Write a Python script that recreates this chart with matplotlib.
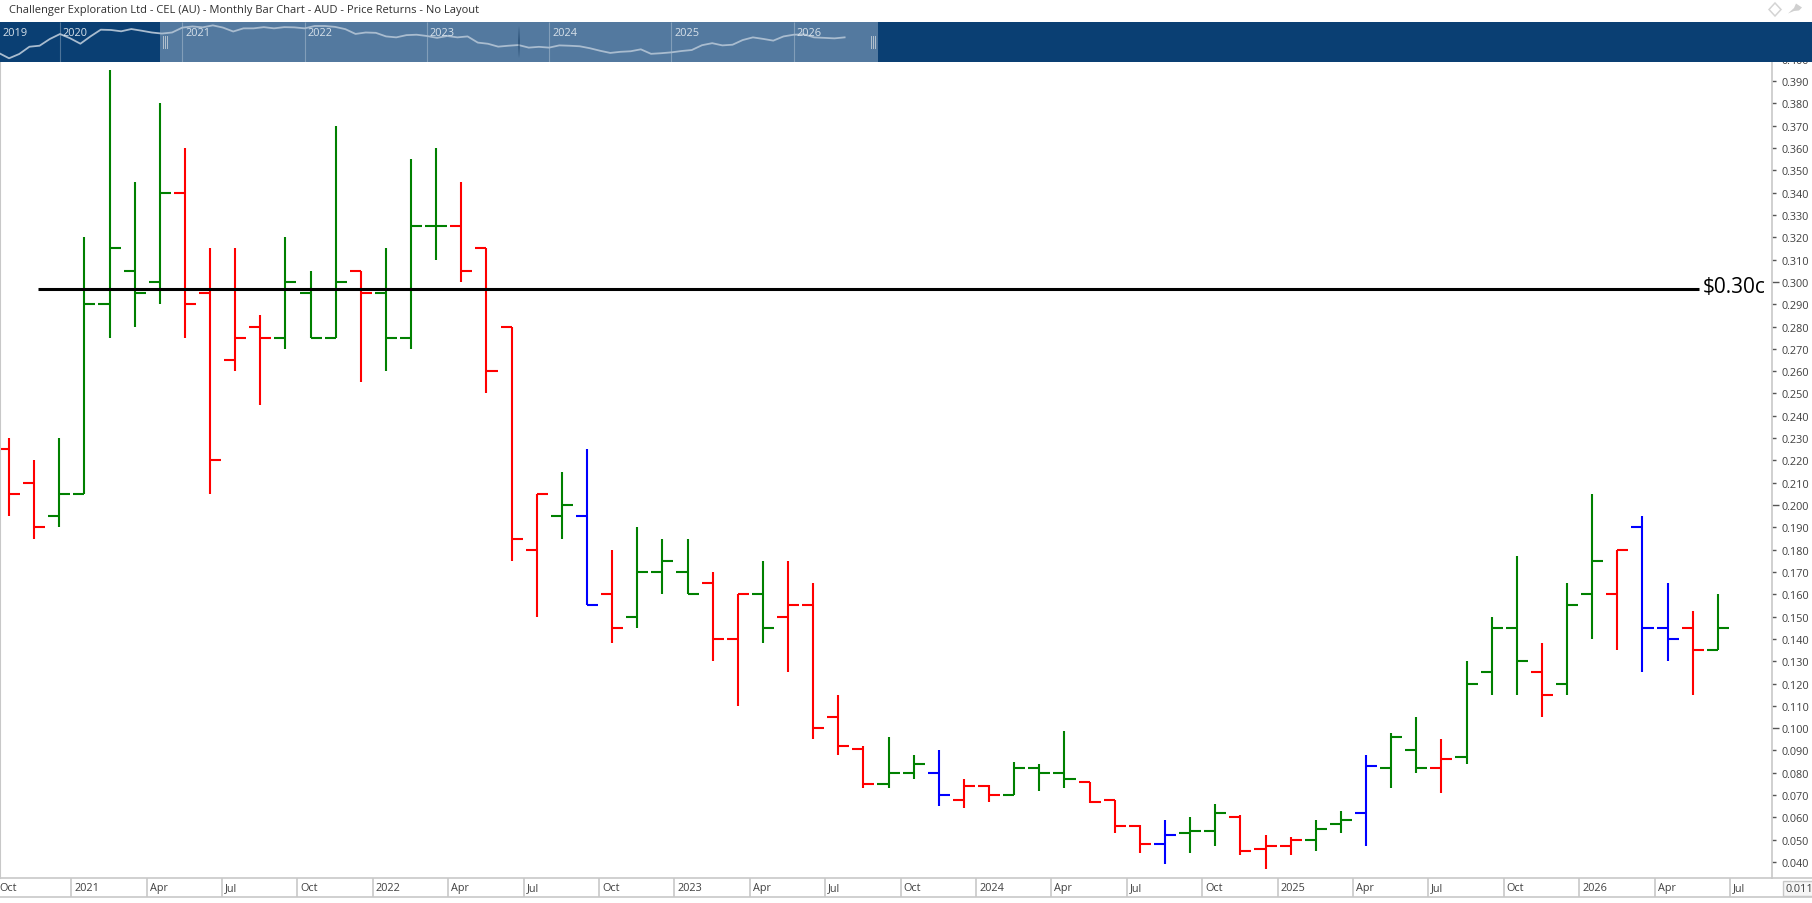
import matplotlib
matplotlib.use("Agg")
import matplotlib.pyplot as plt
from matplotlib.patches import Polygon, Rectangle

plt.rcParams['font.family'] = ['Open Sans', 'DejaVu Sans']

W, H = 1812, 904

# monthly prices, Oct 2020 to Jun 2026
opens = [0.225, 0.210, 0.195, 0.205, 0.290, 0.305, 0.300, 0.340, 0.295, 0.265,
         0.280, 0.275, 0.295, 0.275, 0.305, 0.295, 0.275, 0.325, 0.325, 0.315,
         0.280, 0.180, 0.195, 0.195, 0.160, 0.150, 0.170, 0.170, 0.165, 0.140,
         0.160, 0.150, 0.155, 0.105, 0.0905, 0.075, 0.080, 0.080, 0.068, 0.074,
         0.070, 0.082, 0.080, 0.076, 0.068, 0.056, 0.048, 0.053, 0.054, 0.060,
         0.046, 0.047, 0.050, 0.057, 0.062, 0.082, 0.090, 0.082, 0.087, 0.125,
         0.145, 0.125, 0.120, 0.160, 0.160, 0.190, 0.145, 0.145, 0.135]
highs = [0.230, 0.220, 0.230, 0.320, 0.395, 0.345, 0.380, 0.360, 0.315, 0.315,
         0.285, 0.320, 0.305, 0.370, 0.305, 0.315, 0.355, 0.360, 0.345, 0.315,
         0.280, 0.205, 0.215, 0.225, 0.180, 0.190, 0.185, 0.185, 0.170, 0.160,
         0.175, 0.175, 0.165, 0.115, 0.092, 0.096, 0.088, 0.090, 0.077, 0.0745,
         0.085, 0.084, 0.0985, 0.076, 0.068, 0.0566, 0.059, 0.060, 0.066, 0.061,
         0.052, 0.051, 0.059, 0.063, 0.088, 0.0977, 0.105, 0.095, 0.130, 0.150,
         0.177, 0.138, 0.165, 0.205, 0.180, 0.195, 0.165, 0.1525, 0.160]
lows = [0.195, 0.185, 0.190, 0.205, 0.275, 0.280, 0.290, 0.275, 0.205, 0.260,
        0.245, 0.270, 0.275, 0.275, 0.255, 0.260, 0.270, 0.310, 0.300, 0.250,
        0.175, 0.150, 0.185, 0.155, 0.138, 0.145, 0.160, 0.160, 0.130, 0.110,
        0.138, 0.125, 0.095, 0.088, 0.073, 0.073, 0.077, 0.065, 0.064, 0.067,
        0.070, 0.072, 0.073, 0.0665, 0.053, 0.044, 0.039, 0.044, 0.047, 0.043,
        0.037, 0.043, 0.045, 0.053, 0.047, 0.073, 0.080, 0.071, 0.084, 0.115,
        0.115, 0.105, 0.115, 0.140, 0.135, 0.125, 0.130, 0.115, 0.135]
closes = [0.205, 0.190, 0.205, 0.290, 0.315, 0.295, 0.340, 0.290, 0.220, 0.275,
          0.275, 0.300, 0.275, 0.300, 0.295, 0.275, 0.325, 0.325, 0.305, 0.260,
          0.185, 0.205, 0.200, 0.155, 0.145, 0.170, 0.175, 0.160, 0.140, 0.160,
          0.145, 0.155, 0.100, 0.092, 0.075, 0.080, 0.084, 0.070, 0.074, 0.070,
          0.082, 0.080, 0.077, 0.067, 0.056, 0.048, 0.052, 0.054, 0.062, 0.045,
          0.047, 0.050, 0.055, 0.059, 0.083, 0.096, 0.082, 0.086, 0.120, 0.145,
          0.130, 0.115, 0.155, 0.175, 0.180, 0.145, 0.140, 0.135, 0.145]

# colour per bar: g = green, r = red, b = blue
bar_colours = ("rrgggggrrr" "rgggrgggrr" "rrgbrgggrr" "grrrrggbrr"
               "gggrrrbggr" "rrggbggrgg" "grggrbbrg")
colour_map = {"g": "#008000", "r": "#ff0000", "b": "#0000ff"}
colours = [colour_map[c] for c in bar_colours]

# closes before the bars start, Jul 2019 to Sep 2020, only seen in the overview strip
early_closes = [0.0477, 0.0328, 0.0445, 0.0746, 0.0802, 0.129, 0.184, 0.1356, 0.0924,
                0.156, 0.250, 0.245, 0.223, 0.262, 0.233]

tick_months = [0, 3, 6, 9, 12, 15, 18, 21, 24, 27, 30, 33, 36, 39, 42, 45, 48, 51, 54, 57,
               60, 63, 66, 69]
tick_labels = ["Oct", "2021", "Apr", "Jul", "Oct", "2022", "Apr", "Jul", "Oct", "2023",
               "Apr", "Jul", "Oct", "2024", "Apr", "Jul", "Oct", "2025", "Apr", "Jul",
               "Oct", "2026", "Apr", "Jul"]
overview_years = ["2019", "2020", "2021", "2022", "2023", "2024", "2025", "2026"]
overview_year_months = [-5.9, 0, 12, 24, 36, 48, 60, 72]

major_prices = [0.1, 0.2, 0.3, 0.4]
minor_prices = [0.04, 0.05, 0.06, 0.07, 0.08, 0.09, 0.11, 0.12, 0.13, 0.14, 0.15, 0.16,
                0.17, 0.18, 0.19, 0.21, 0.22, 0.23, 0.24, 0.25, 0.26, 0.27, 0.28, 0.29,
                0.31, 0.32, 0.33, 0.34, 0.35, 0.36, 0.37, 0.38, 0.39]
level_price = 0.297
level_label = "$0.30c"

title = "Challenger Exploration Ltd - CEL (AU) - Monthly Bar Chart - AUD - Price Returns - No Layout"

GREY = "#c8c8c8"
TEXT = "#404040"
NAVY = "#0a3f73"
SELECT = "#53799f"

fig = plt.figure(figsize=(W / 100, H / 100), dpi=100, facecolor="white")


def box(left, top, right, bottom):
    return [left / W, 1 - bottom / H, (right - left) / W, (bottom - top) / H]


# main price panel, its top edge sits behind the overview strip
ax = fig.add_axes(box(0, 55, 1772, 879), zorder=1)
spacing = 25.13

xs = list(range(len(closes)))
stub = 0.44
ax.vlines(xs, lows, highs, colors=colours, linewidth=1.5)
ax.hlines(opens, [x - stub for x in xs], xs, colors=colours, linewidth=1.5)
ax.hlines(closes, xs, [x + stub for x in xs], colors=colours, linewidth=1.5)

# horizontal level and its label
level_start, level_end = 1.154, 67.25
ax.plot([level_start, level_end], [level_price, level_price], color="black", linewidth=2.2,
        solid_capstyle="butt", zorder=5)
ax.annotate(level_label, (level_end, level_price), xytext=(4, 2), textcoords="offset pixels",
            va="center", ha="left", fontsize=15, color="black", zorder=6)

ax.spines["top"].set_visible(False)
ax.spines["left"].set_color(GREY)
ax.spines["left"].set_linewidth(1.5)
ax.spines["right"].set_color(GREY)
ax.spines["right"].set_linewidth(1.2)
ax.spines["bottom"].set_color(GREY)
ax.spines["bottom"].set_linewidth(1.2)

ax.yaxis.tick_right()
ax.set_yticks(major_prices, ["%.3f" % p for p in major_prices])
ax.set_yticks(minor_prices, ["%.3f" % p for p in minor_prices], minor=True)
ax.tick_params(axis="y", which="major", length=5, width=1, pad=1.5, color="#555555",
               labelcolor=TEXT, labelsize=7.8)
ax.tick_params(axis="y", which="minor", length=2.6, width=1, pad=3.9, color="#555555",
               labelcolor=TEXT, labelsize=7.8)

# month separators run down through the date strip
tick_xs = [m - 0.52 for m in tick_months]
ax.set_xticks(tick_xs, [""] * len(tick_xs))
ax.tick_params(axis="x", length=13.7, width=1.2, color=GREY, pad=0)

# limits go last, set_xticks widens them otherwise
ax.set_xlim(-9 / spacing, (1772 - 9) / spacing)
ax.set_ylim(0.04 - 16 / 2231, 0.04 + 808 / 2231)

for tx, label in zip(tick_xs, tick_labels):
    ax.annotate(label, (tx, 0), xycoords=("data", "axes fraction"), xytext=(3, -10),
                textcoords="offset pixels", ha="left", va="center", fontsize=7.8,
                color=TEXT, annotation_clip=False)

# overview strip across the top, log scaled
ov = fig.add_axes(box(0, 23, W, 62.5), zorder=2)
month_px = 10.19
ov.set_xlim(-60 / month_px, (W - 60) / month_px)
ov.set_yscale("log")
ov.set_ylim(0.0261, 0.432)
ov.set_facecolor(NAVY)
ov.axvspan((160 - 60) / month_px, (878 - 60) / month_px, color=SELECT, lw=0, zorder=0)
for name in ov.spines:
    ov.spines[name].set_visible(False)
ov.set_xticks([])
ov.set_yticks([])
ov.minorticks_off()
ov.tick_params(which="both", left=False, labelleft=False)
ov.vlines(overview_year_months[1:], 0, 1, transform=ov.get_xaxis_transform(),
          colors="#ffffff", alpha=0.28, linewidth=0.8, zorder=1)
all_closes = early_closes + closes
ov.plot([m - 6 for m in range(len(all_closes))], all_closes, color="#a9bccf",
        linewidth=1.3, zorder=2)
for m, label in zip(overview_year_months, overview_years):
    ov.annotate(label, (m, 1), xycoords=("data", "axes fraction"), xytext=(3, -11),
                textcoords="offset pixels", ha="left", va="center", fontsize=7.9,
                color="#d7e1ea", zorder=3)

# window furniture drawn in pixel coordinates
chrome = fig.add_axes([0, 0, 1, 1], zorder=3)
chrome.set_xlim(0, W)
chrome.set_ylim(H, 0)
chrome.axis("off")
chrome.text(9, 11, title, fontsize=8.0, color="#303030", va="center", ha="left")
chrome.plot([1772, W], [879, 879], color=GREY, linewidth=1.2)
chrome.plot([0, W], [897.7, 897.7], color=GREY, linewidth=1.2)
chrome.add_patch(Rectangle((1782.5, 882), 31, 15, facecolor="#f6f6f6", edgecolor=GREY, linewidth=1))
chrome.text(1785, 889.5, "0.011", fontsize=7.8, color=TEXT, va="center", ha="left")
for gx in [163, 165, 167, 871, 873, 875]:
    chrome.plot([gx, gx], [37, 49], color="#b4c2cf", linewidth=0.7)
# soft dark slider mark in the middle of the window
for i in range(15):
    chrome.plot([519, 519], [28 + i, 58 - i], color="#143a60", alpha=0.045, linewidth=1.2)
chrome.add_patch(Polygon([(1775, 4), (1781, 10.5), (1775, 17), (1769, 10.5)], closed=True,
                         fill=False, edgecolor="#d4d4d4", linewidth=1.1))
chrome.add_patch(Polygon([(1788, 14.5), (1794, 9), (1796, 4.5), (1802, 8.5), (1799, 11.5), (1794, 12)],
                         closed=True, facecolor="#d0d0d0", edgecolor="none"))

fig.savefig("out.png", dpi=100)
